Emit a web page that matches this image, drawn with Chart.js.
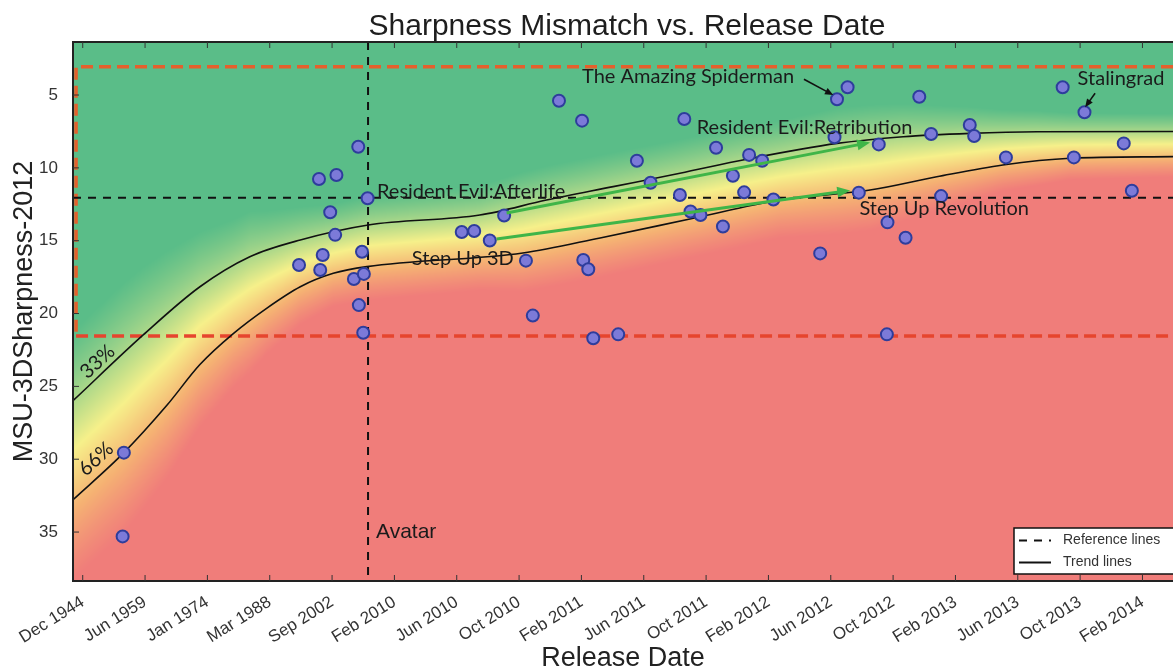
<!DOCTYPE html>
<html>
<head>
<meta charset="utf-8">
<title>Sharpness Mismatch vs. Release Date</title>
<script src="https://cdn.jsdelivr.net/npm/chart.js@4.4.1/dist/chart.umd.min.js"></script>
<style>
  html, body { margin: 0; padding: 0; background: #fff; }
</style>
</head>
<body>
<canvas id="sharpChart" width="1173" height="672"></canvas>
<script>
// x axis is a release-order index; one tick label per index
const tickLabels = ['Dec 1944', 'Jun 1959', 'Jan 1974', 'Mar 1988', 'Sep 2002', 'Feb 2010',
  'Jun 2010', 'Oct 2010', 'Feb 2011', 'Jun 2011', 'Oct 2011', 'Feb 2012', 'Jun 2012',
  'Oct 2012', 'Feb 2013', 'Jun 2013', 'Oct 2013', 'Feb 2014'];
const yTicks = [5, 10, 15, 20, 25, 30, 35];

// films: release index and MSU-3D sharpness mismatch
const filmX = [0.64, 0.66, 3.47, 3.79, 3.85, 3.81, 3.97, 4.05, 4.07, 4.35, 4.42, 4.43, 4.48,
  4.50, 4.51, 4.57, 6.08, 6.28, 6.53, 6.76, 7.11, 7.22, 7.64, 8.01, 8.03, 8.11, 8.19, 8.59,
  8.89, 9.11, 9.58, 9.65, 9.75, 9.91, 10.16, 10.27, 10.43, 10.61, 10.69, 10.90, 11.08,
  11.83, 12.06, 12.10, 12.27, 12.45, 12.77, 12.90, 12.91, 13.20, 13.42, 13.61, 13.77,
  14.23, 14.30, 14.81, 15.72, 15.90, 16.07, 16.70, 16.83];
const filmY = [35.3, 29.55, 16.67, 10.76, 15.98, 17.01, 13.05, 14.60, 10.49, 17.63, 8.55,
  19.42, 15.76, 21.32, 17.28, 12.09, 14.40, 14.33, 14.99, 13.27, 16.37, 20.14, 5.39, 6.76,
  16.32, 16.96, 21.70, 21.43, 9.51, 11.02, 11.86, 6.65, 13.00, 13.24, 8.62, 14.03, 10.54,
  11.68, 9.11, 9.51, 12.17, 15.87, 7.90, 5.29, 4.47, 11.70, 8.39, 21.43, 13.74, 14.80,
  5.12, 7.68, 11.94, 7.06, 7.81, 9.28, 4.47, 9.28, 6.18, 8.32, 11.57];

// trend lines (33% and 66%)
const upperX = [-0.16, 0.97, 1.88, 2.68, 3.49, 4.58, 6.37, 7.44, 8.51, 9.58, 10.65, 12.10,
  13.16, 14.24, 15.31, 17.49];
const upperY = [26.0, 21.47, 18.16, 16.10, 14.95, 13.92, 13.24, 12.21, 11.29, 10.37, 9.41,
  8.32, 7.86, 7.63, 7.52, 7.50];
const lowerX = [-0.16, 0.66, 1.35, 1.88, 2.42, 2.95, 3.49, 4.02, 4.56, 7.06, 8.30,
  9.74, 11.19, 12.63, 13.70, 14.76, 15.84, 17.49];
const lowerY = [32.8, 29.55, 26.3, 23.5, 21.36, 19.64, 18.16, 17.24, 16.78, 15.84,
  14.81, 13.51, 12.21, 11.52, 10.61, 9.80, 9.34, 9.23];

// reference levels
const refTop = 3.06;
const refBottom = 21.54;
const refLeft = -0.107;
const avatarX = 4.577;
const avatarLevel = 12.05;

const xMin = -0.156, xMax = 17.49;
const yMin = 1.36, yMax = 38.36;

// labels: [text, x, y] in axis units (left edge, middle of the text)
const notes = [
  ['The Amazing Spiderman', 8.01, 3.76],
  ['Resident Evil:Retribution', 9.85, 7.24],
  ['Resident Evil:Afterlife', 4.72, 11.6],
  ['Step Up 3D', 5.28, 16.21],
  ['Step Up Revolution', 12.46, 12.76],
  ['Stalingrad', 15.96, 3.88]
];
const blackArrows = [[11.57, 3.92, 12.04, 5.0], [16.24, 4.88, 16.08, 5.84]];
const greenArrows = [[6.80, 13.10, 12.63, 8.26], [6.64, 14.88, 12.31, 11.55]];

const pts = (xs, ys) => xs.map((v, i) => ({ x: v, y: ys[i] }));

function interp(xs, ys, v) {
  if (v <= xs[0]) return ys[0];
  for (let i = 1; i < xs.length; i++) {
    if (v <= xs[i]) {
      const t = (v - xs[i - 1]) / (xs[i] - xs[i - 1]);
      return ys[i - 1] + t * (ys[i] - ys[i - 1]);
    }
  }
  return ys[ys.length - 1];
}

function erf(x) {
  const s = x < 0 ? -1 : 1;
  x = Math.abs(x);
  const t = 1 / (1 + 0.3275911 * x);
  const y = 1 - (((((1.061405429 * t - 1.453152027) * t) + 1.421413741) * t - 0.284496736) * t + 0.254829592) * t * Math.exp(-x * x);
  return s * y;
}
const phi = z => 0.5 * (1 + erf(z / Math.SQRT2));

const bandStops = [
  [0.0, [90, 189, 136]],
  [0.15, [90, 189, 136]],
  [0.5, [246, 240, 138]],
  [0.7, [245, 178, 115]],
  [0.87, [240, 125, 122]],
  [1.0, [240, 125, 122]]
];
function bandColor(p) {
  for (let i = 1; i < bandStops.length; i++) {
    if (p <= bandStops[i][0]) {
      const [p0, c0] = bandStops[i - 1], [p1, c1] = bandStops[i];
      const t = (p - p0) / (p1 - p0);
      return [0, 1, 2].map(k => c0[k] + t * (c1[k] - c0[k]));
    }
  }
  return bandStops[bandStops.length - 1][1];
}

// green -> yellow -> red field, graded by position between the two trend lines
const bandPlugin = {
  id: 'band',
  beforeDatasetsDraw(chart) {
    const { ctx, chartArea: a, scales: { x, y } } = chart;
    const w = Math.round(a.right - a.left), h = Math.round(a.bottom - a.top);
    const off = document.createElement('canvas');
    off.width = w; off.height = h;
    const octx = off.getContext('2d');
    const img = octx.createImageData(w, h);
    const rows = [];
    for (let r = 0; r < h; r++) rows.push(y.getValueForPixel(a.top + r + 0.5));
    for (let c = 0; c < w; c++) {
      const xv = x.getValueForPixel(a.left + c + 0.5);
      const u = interp(upperX, upperY, xv), l = interp(lowerX, lowerY, xv);
      for (let r = 0; r < h; r++) {
        const t = (rows[r] - u) / (l - u);
        const col = bandColor(phi((t - 0.5) * 0.86));
        const k = (r * w + c) * 4;
        img.data[k] = col[0]; img.data[k + 1] = col[1]; img.data[k + 2] = col[2]; img.data[k + 3] = 255;
      }
    }
    octx.putImageData(img, 0, 0);
    ctx.drawImage(off, a.left, a.top);
  }
};

function arrow(ctx, x0, y0, x1, y1, color, width, head) {
  const ang = Math.atan2(y1 - y0, x1 - x0);
  ctx.save();
  ctx.strokeStyle = color; ctx.fillStyle = color; ctx.lineWidth = width;
  ctx.beginPath();
  ctx.moveTo(x0, y0);
  ctx.lineTo(x1 - Math.cos(ang) * head * 0.8, y1 - Math.sin(ang) * head * 0.8);
  ctx.stroke();
  ctx.beginPath();
  ctx.moveTo(x1, y1);
  ctx.lineTo(x1 - head * Math.cos(ang - 0.4), y1 - head * Math.sin(ang - 0.4));
  ctx.lineTo(x1 - head * Math.cos(ang + 0.4), y1 - head * Math.sin(ang + 0.4));
  ctx.closePath();
  ctx.fill();
  ctx.restore();
}

const overlayPlugin = {
  id: 'overlay',
  afterDraw(chart) {
    const { ctx, chartArea: a, scales: { x, y } } = chart;
    ctx.save();

    // frame and inward tick marks
    ctx.strokeStyle = '#222';
    ctx.lineWidth = 2;
    ctx.beginPath();
    ctx.moveTo(a.right + 2, a.top); ctx.lineTo(a.left, a.top);
    ctx.lineTo(a.left, a.bottom); ctx.lineTo(a.right + 2, a.bottom);
    ctx.stroke();
    ctx.lineWidth = 1;
    ctx.strokeStyle = '#333';
    ctx.beginPath();
    tickLabels.forEach((_, i) => {
      const px = x.getPixelForValue(i);
      ctx.moveTo(px, a.bottom); ctx.lineTo(px, a.bottom - 6);
      ctx.moveTo(px, a.top); ctx.lineTo(px, a.top + 6);
    });
    yTicks.forEach(v => {
      const py = y.getPixelForValue(v);
      ctx.moveTo(a.left, py); ctx.lineTo(a.left + 6, py);
    });
    ctx.stroke();

    // arrows
    greenArrows.forEach(([x0, y0, x1, y1]) => arrow(ctx, x.getPixelForValue(x0), y.getPixelForValue(y0),
      x.getPixelForValue(x1), y.getPixelForValue(y1), '#3fb548', 3, 14));
    blackArrows.forEach(([x0, y0, x1, y1]) => arrow(ctx, x.getPixelForValue(x0), y.getPixelForValue(y0),
      x.getPixelForValue(x1), y.getPixelForValue(y1), '#111', 1.6, 9));

    // film labels
    ctx.fillStyle = '#1b1b1b';
    ctx.font = '20px Lato, "Open Sans", sans-serif';
    ctx.textBaseline = 'middle';
    ctx.textAlign = 'left';
    notes.forEach(([txt, nx, ny]) => ctx.fillText(txt, x.getPixelForValue(nx), y.getPixelForValue(ny)));

    ctx.font = '21px "Liberation Sans", Arial, sans-serif';
    ctx.fillText('Avatar', x.getPixelForValue(avatarX) + 8, y.getPixelForValue(35.03));

    // percentile tags along the trend lines
    ctx.font = '20px Lato, "Open Sans", sans-serif';
    ctx.textAlign = 'center';
    [['33%', 0.237, 23.3], ['66%', 0.213, 29.98]].forEach(([txt, tx, ty]) => {
      ctx.save();
      ctx.translate(x.getPixelForValue(tx), y.getPixelForValue(ty));
      ctx.rotate(-43 * Math.PI / 180);
      ctx.fillText(txt, 0, 0);
      ctx.restore();
    });

    // chart title
    ctx.font = '30px "Liberation Sans", Arial, sans-serif';
    ctx.fillStyle = '#1e1e1e';
    ctx.textBaseline = 'alphabetic';
    ctx.fillText('Sharpness Mismatch vs. Release Date', 627, 35);

    // legend box in the lower right corner
    const bx = a.right - 159, by = a.bottom - 53;
    ctx.fillStyle = '#fff';
    ctx.fillRect(bx, by, 175, 46);
    ctx.strokeStyle = '#111';
    ctx.lineWidth = 1.5;
    ctx.strokeRect(bx, by, 175, 46);
    const items = chart.data.datasets.filter(d => d.legendText)
      .sort((p, q) => p.legendRank - q.legendRank);
    items.forEach((d, i) => {
      const ly = by + 12.5 + i * 22;
      ctx.strokeStyle = '#111';
      ctx.lineWidth = 2;
      ctx.setLineDash(d.borderDash || []);
      ctx.beginPath(); ctx.moveTo(bx + 5, ly); ctx.lineTo(bx + 37, ly); ctx.stroke();
      ctx.setLineDash([]);
      ctx.fillStyle = '#333';
      ctx.font = '14px "Liberation Sans", Arial, sans-serif';
      ctx.textAlign = 'left';
      ctx.textBaseline = 'middle';
      ctx.fillText(d.legendText, bx + 49, ly);
    });
    ctx.restore();
  }
};

Chart.defaults.font.family = '"Liberation Sans", Arial, sans-serif';
Chart.defaults.color = '#2a2a2a';

new Chart(document.getElementById('sharpChart'), {
  type: 'scatter',
  data: {
    datasets: [
      {
        label: 'Films',
        data: pts(filmX, filmY),
        pointRadius: 6,
        pointBackgroundColor: '#7c7ad8',
        pointBorderColor: '#2e3d9c',
        pointBorderWidth: 2
      },
      {
        label: 'Trend 33%',
        data: pts(upperX, upperY),
        showLine: true,
        borderColor: '#111',
        borderWidth: 1.6,
        pointRadius: 0,
        cubicInterpolationMode: 'monotone',
        legendText: 'Trend lines',
        legendRank: 2
      },
      {
        label: 'Trend 66%',
        data: pts(lowerX, lowerY),
        showLine: true,
        borderColor: '#111',
        borderWidth: 1.6,
        pointRadius: 0,
        cubicInterpolationMode: 'monotone'
      },
      {
        label: 'Avatar level',
        data: [{ x: xMin, y: avatarLevel }, { x: xMax, y: avatarLevel }],
        showLine: true,
        borderColor: '#111',
        borderWidth: 2,
        borderDash: [8, 7],
        pointRadius: 0,
        legendText: 'Reference lines',
        legendRank: 1
      },
      {
        label: 'Avatar release',
        data: [{ x: avatarX, y: yMin }, { x: avatarX, y: yMax }],
        showLine: true,
        borderColor: '#111',
        borderWidth: 2,
        borderDash: [8, 7],
        pointRadius: 0
      },
      {
        label: 'Upper limit',
        data: [{ x: xMax, y: refTop }, { x: refLeft, y: refTop }, { x: refLeft, y: refBottom }],
        showLine: true,
        borderColor: '#e4602c',
        borderWidth: 3.5,
        borderDash: [12, 6],
        pointRadius: 0
      },
      {
        label: 'Lower limit',
        data: [{ x: refLeft, y: refBottom }, { x: xMax, y: refBottom }],
        showLine: true,
        borderColor: '#e6452e',
        borderWidth: 3.5,
        borderDash: [12, 6],
        pointRadius: 0
      }
    ]
  },
  options: {
    responsive: false,
    animation: false,
    layout: { autoPadding: false, padding: { top: 42, right: 0, left: 0, bottom: 0 } },
    plugins: {
      legend: { display: false },
      tooltip: { enabled: false }
    },
    scales: {
      x: {
        type: 'linear',
        min: xMin,
        max: xMax,
        afterBuildTicks: s => { s.ticks = tickLabels.map((_, i) => ({ value: i })); },
        afterFit: s => { s.height = 91; s.paddingLeft = 0; s.paddingRight = 0; },
        grid: { display: false },
        border: { display: false },
        ticks: {
          autoSkip: false,
          minRotation: 32,
          maxRotation: 32,
          padding: 3,
          font: { size: 17 },
          color: '#333',
          callback: v => tickLabels[v]
        },
        title: {
          display: true,
          text: 'Release Date',
          font: { size: 27, lineHeight: 1.0 },
          color: '#222',
          padding: { top: 0, bottom: 0 }
        }
      },
      y: {
        type: 'linear',
        reverse: true,
        min: yMin,
        max: yMax,
        afterBuildTicks: s => { s.ticks = yTicks.map(v => ({ value: v })); },
        afterFit: s => { s.width = 73; },
        grid: { display: false, drawTicks: false },
        border: { display: false },
        ticks: { padding: 15, font: { size: 17 }, color: '#333' },
        title: {
          display: true,
          text: 'MSU-3DSharpness-2012',
          font: { size: 27 },
          color: '#222',
          padding: { top: 8, bottom: 0 }
        }
      }
    }
  },
  plugins: [bandPlugin, overlayPlugin]
});
</script>
</body>
</html>
